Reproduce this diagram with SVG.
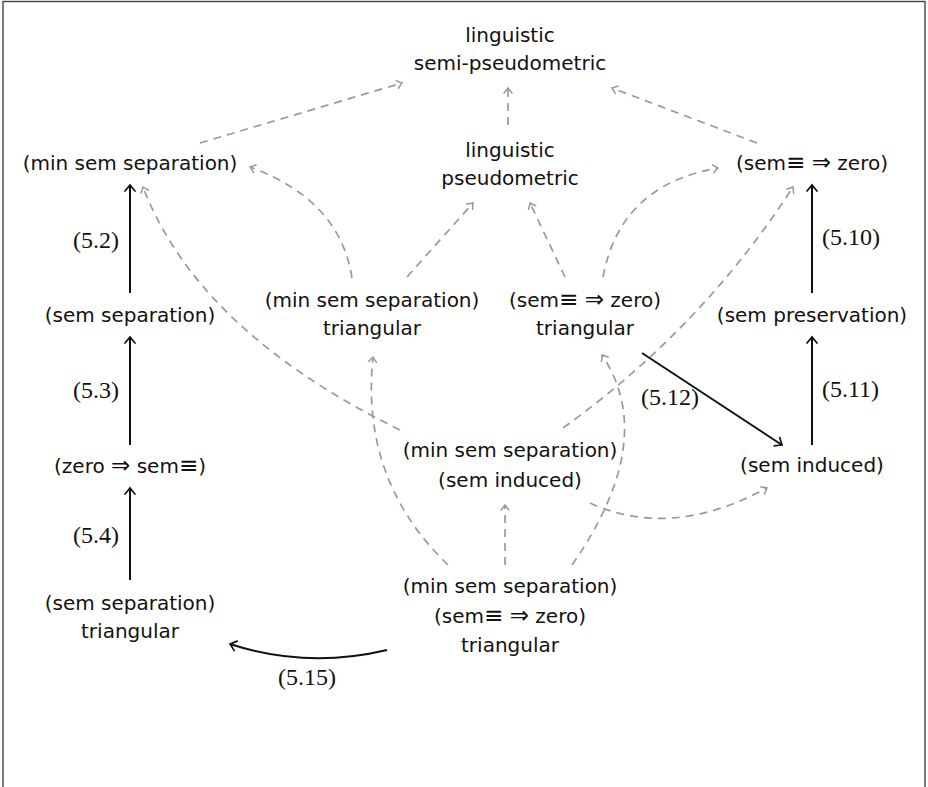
<svg xmlns="http://www.w3.org/2000/svg" width="928" height="787" viewBox="0 0 928 787">
<style>
  .t { font-family: "DejaVu Sans", "Liberation Sans", sans-serif; font-size: 20px; fill: #111; text-anchor: middle; }
  .s { font-size: 23px; }
  .lb { font-family: "Liberation Serif", "DejaVu Serif", serif; font-size: 24px; fill: #111; }
  .blk { fill: none; stroke: #111; stroke-width: 2; }
  .gry { fill: none; stroke: #9a9a9a; stroke-width: 1.7; stroke-dasharray: 8 6; }
</style>
<defs>
  <marker id="ahb" markerUnits="userSpaceOnUse" viewBox="-10 -10 20 20" markerWidth="20" markerHeight="20" refX="0" refY="0" orient="auto">
    <path d="M-6,-5 Q-1.8,-1.3 0,0 Q-1.8,1.3 -6,5" fill="none" stroke="#111" stroke-width="1.7" stroke-dasharray="none" stroke-linecap="round"/>
  </marker>
  <marker id="ahg" markerUnits="userSpaceOnUse" viewBox="-10 -10 20 20" markerWidth="20" markerHeight="20" refX="0" refY="0" orient="auto">
    <path d="M-5,-4 Q-1.5,-1 0,0 Q-1.5,1 -5,4" fill="none" stroke="#9a9a9a" stroke-width="1.5" stroke-dasharray="none" stroke-linecap="round"/>
  </marker>
</defs>
<rect x="3" y="1.5" width="922" height="800" fill="#fff" stroke="#444" stroke-width="1.4"/>

<g id="connectors">
  <path class="blk" marker-end="url(#ahb)" d="M130,293 L130,185"/>
  <path class="blk" marker-end="url(#ahb)" d="M130,445 L130,337"/>
  <path class="blk" marker-end="url(#ahb)" d="M130,580 L130,488"/>
  <path class="blk" marker-end="url(#ahb)" d="M812,293 L812,185"/>
  <path class="blk" marker-end="url(#ahb)" d="M812,445 L812,337"/>
  <path class="blk" marker-end="url(#ahb)" d="M642,353 L782,445"/>
  <path class="blk" marker-end="url(#ahb)" d="M387,650 Q307,669 230,644"/>

  <path class="gry" marker-end="url(#ahg)" d="M200,143 L402,83"/>
  <path class="gry" marker-end="url(#ahg)" d="M508,125 L508,88"/>
  <path class="gry" marker-end="url(#ahg)" d="M757,143 L612,88"/>
  <path class="gry" marker-end="url(#ahg)" d="M352,278 Q340,200 250,167"/>
  <path class="gry" marker-end="url(#ahg)" d="M407,277 L473,203"/>
  <path class="gry" marker-end="url(#ahg)" d="M565,277 L530,203"/>
  <path class="gry" marker-end="url(#ahg)" d="M603,277 Q620,185 718,168"/>
  <path class="gry" marker-end="url(#ahg)" d="M400,430 Q198,331 143,187"/>
  <path class="gry" marker-end="url(#ahg)" d="M563,428 Q702,328 793,187"/>
  <path class="gry" marker-end="url(#ahg)" d="M448,565 Q360,480 373,357"/>
  <path class="gry" marker-end="url(#ahg)" d="M505,565 L505,505"/>
  <path class="gry" marker-end="url(#ahg)" d="M572,565 Q659,440 602,355"/>
  <path class="gry" marker-end="url(#ahg)" d="M590,503 Q671,540 767,488"/>

  <text class="lb" text-anchor="end" x="119" y="248">(5.2)</text>
  <text class="lb" text-anchor="end" x="119" y="398">(5.3)</text>
  <text class="lb" text-anchor="end" x="119" y="543">(5.4)</text>
  <text class="lb" x="822" y="245">(5.10)</text>
  <text class="lb" x="822" y="397">(5.11)</text>
  <text class="lb" text-anchor="middle" x="670" y="405">(5.12)</text>
  <text class="lb" text-anchor="middle" x="307" y="685">(5.15)</text>
</g>

<g id="n_semi"><text class="t" x="510" y="42">linguistic</text><text class="t" x="510" y="70">semi-pseudometric</text></g>
<g id="n_pseudo"><text class="t" x="510" y="157">linguistic</text><text class="t" x="510" y="185">pseudometric</text></g>
<g id="n_minsep"><text class="t" x="130" y="170">(min sem separation)</text></g>
<g id="n_semzero"><text class="t" x="812" y="170">(sem<tspan class="s">≡</tspan> <tspan class="s">⇒</tspan> zero)</text></g>
<g id="n_sep"><text class="t" x="130" y="322">(sem separation)</text></g>
<g id="n_minsep_tri"><text class="t" x="372" y="307">(min sem separation)</text><text class="t" x="372" y="335">triangular</text></g>
<g id="n_semzero_tri"><text class="t" x="585" y="307">(sem<tspan class="s">≡</tspan> <tspan class="s">⇒</tspan> zero)</text><text class="t" x="585" y="335">triangular</text></g>
<g id="n_pres"><text class="t" x="812" y="322">(sem preservation)</text></g>
<g id="n_zero"><text class="t" x="130" y="473">(zero <tspan class="s">⇒</tspan> sem<tspan class="s">≡</tspan>)</text></g>
<g id="n_minsep_ind"><text class="t" x="510" y="457">(min sem separation)</text><text class="t" x="510" y="487">(sem induced)</text></g>
<g id="n_ind"><text class="t" x="812" y="472">(sem induced)</text></g>
<g id="n_sep_tri"><text class="t" x="130" y="610">(sem separation)</text><text class="t" x="130" y="638">triangular</text></g>
<g id="n_triple"><text class="t" x="510" y="593">(min sem separation)</text><text class="t" x="510" y="623">(sem<tspan class="s">≡</tspan> <tspan class="s">⇒</tspan> zero)</text><text class="t" x="510" y="652">triangular</text></g>
</svg>
